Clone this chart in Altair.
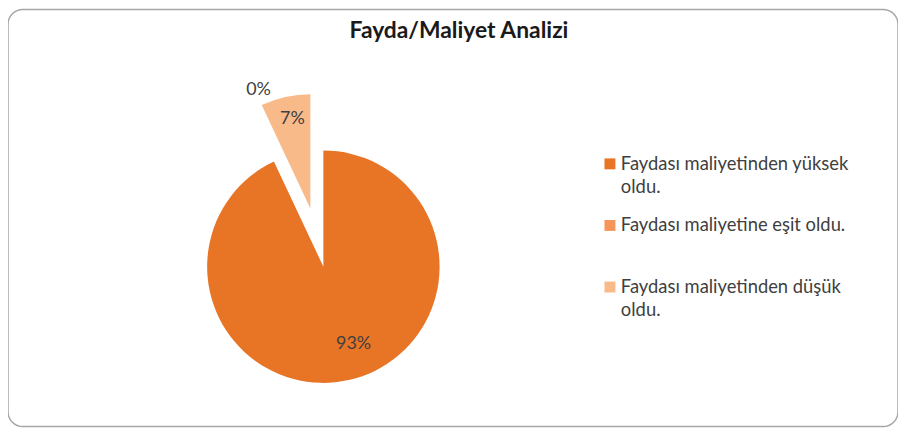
import altair as alt
import pandas as pd

title_text = "Fayda/Maliyet Analizi"
categories = [
    "Faydası maliyetinden yüksek oldu.",
    "Faydası maliyetine eşit oldu.",
    "Faydası maliyetinden düşük oldu.",
]
values = [93, 0, 7]
labels = ["93%", "0%", "7%"]
colors = ["#E87426", "#F5955A", "#F9BA8A"]

df = pd.DataFrame({"category": categories, "value": values,
                   "order": list(range(len(categories))), "label": labels})

FONT = "Lato"
CX, CY, R = 317.5, 259, 117
EX, EY = CX - 13.1, CY - 58.6  # exploded slice centre

base = alt.Chart(df).transform_window(
    end="sum(value)", sort=[alt.SortField("order")]
).transform_calculate(
    start="datum.end - datum.value", mid="datum.end - datum.value / 2"
)

theta_scale = alt.Scale(domain=[0, 100])
color = alt.Color("category:N", scale=alt.Scale(domain=categories, range=colors), legend=None)

main_arc = base.transform_filter("datum.order < 2").mark_arc(
    outerRadius=R, x=CX, y=CY
).encode(theta=alt.Theta("start:Q", scale=theta_scale), theta2="end:Q", color=color)

exp_arc = base.transform_filter("datum.order == 2").mark_arc(
    outerRadius=115, x=EX, y=EY
).encode(theta=alt.Theta("start:Q", scale=theta_scale), theta2="end:Q", color=color)

txt = dict(font=FONT, fontSize=18, color="#404040")
lbl_main = base.transform_filter("datum.order == 0").mark_text(
    radius=80, x=CX, y=CY, dx=13, **txt
).encode(theta=alt.Theta("mid:Q", scale=theta_scale), text="label:N")
lbl_exp = base.transform_filter("datum.order == 2").mark_text(
    radius=92, x=EX, y=EY, dx=2, **txt
).encode(theta=alt.Theta("mid:Q", scale=theta_scale), text="label:N")
lbl_zero = base.transform_filter("datum.order == 1").mark_text(
    radius=132, x=EX, y=EY, dx=4, **txt
).encode(theta=alt.Theta("mid:Q", scale=theta_scale), text="label:N")

# legend (drawn as marks so that the wrapped labels get Excel-like spacing)
legend_base = alt.Chart(df).transform_calculate(
    lines="indexof(datum.category, 'eşit') >= 0 ? [datum.category] : [replace(datum.category, ' oldu.', ''), 'oldu.']",
    sy="155.5 + datum.order * 62",
)
leg_sym = legend_base.mark_square(size=121, opacity=1, strokeWidth=0).encode(
    x=alt.value(606), y=alt.Y("sy:Q", scale=None), color=color
)
leg_txt = legend_base.transform_flatten(["lines"], as_=["line"]).transform_window(
    idx="row_number()", groupby=["category"]
).transform_calculate(
    ly="datum.sy + (datum.idx - 1) * 23"
).mark_text(align="left", baseline="middle", font=FONT, fontSize=18.5, color="#404040").encode(
    x=alt.value(617), y=alt.Y("ly:Q", scale=None), text="line:N"
)

title = alt.Chart(pd.DataFrame({"t": [title_text]})).mark_text(
    font=FONT, fontSize=23, fontWeight="bold", color="#1a1a1a"
).encode(text="t:N", x=alt.value(454), y=alt.value(22))

chart = alt.layer(main_arc, exp_arc, lbl_main, lbl_exp, lbl_zero, leg_sym, leg_txt, title).properties(
    width=896, height=420, autosize="none", padding=0
).configure_view(stroke="#A6A6A6", strokeWidth=1.5, cornerRadius=15)

chart.save("out.html", embed_options={"renderer": "svg", "actions": False})
